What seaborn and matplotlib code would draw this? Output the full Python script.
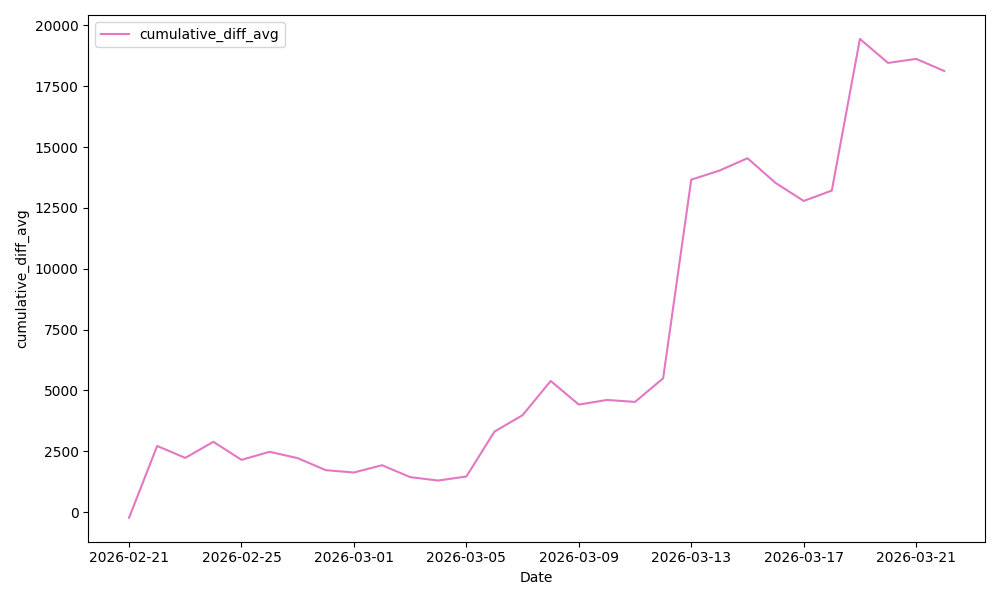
import matplotlib
matplotlib.use('Agg')
import matplotlib.pyplot as plt
import matplotlib.dates as mdates
import numpy as np
import pandas as pd
import seaborn as sns

# ── Data ───────────────────────────────────────────────────────────────────
dates = pd.date_range('2026-02-21', '2026-03-22', freq='D')
cumulative_diff_avg = [
    -230, 2720, 2230, 2890, 2150, 2480, 2220, 1725, 1630, 1930,
    1440, 1300, 1465, 3310, 3985, 5390, 4420, 4610, 4530, 5500,
    13660, 14030, 14540, 13525, 12785, 13210, 19440, 18455, 18620, 18125,
]
tick_dates = dates[::4]

PINK = '#e377c2'

df = pd.DataFrame({'Date': dates, 'cumulative_diff_avg': cumulative_diff_avg})

fig, ax = plt.subplots(figsize=(10, 6), dpi=100)
sns.lineplot(data=df, x='Date', y='cumulative_diff_avg', color=PINK,
             label='cumulative_diff_avg', ax=ax)

ax.set_xticks(tick_dates)
ax.xaxis.set_major_formatter(mdates.DateFormatter('%Y-%m-%d'))
ax.set_xlabel('Date')
ax.set_ylabel('cumulative_diff_avg')
ax.legend(loc='upper left')

plt.tight_layout()
plt.savefig('out.png', dpi=100)
plt.close()
